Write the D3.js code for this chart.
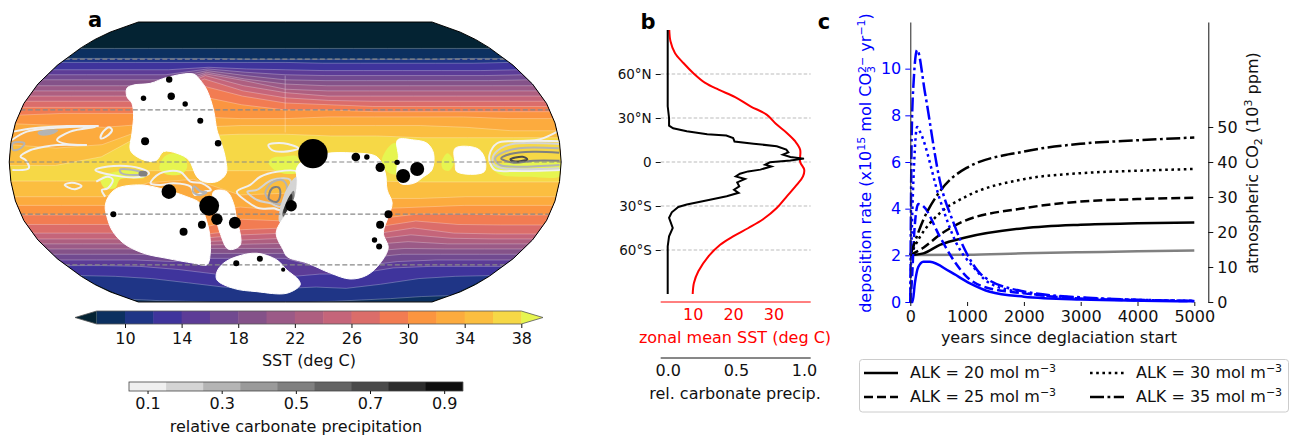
<!DOCTYPE html>
<html>
<head>
<meta charset="utf-8">
<script src="https://cdnjs.cloudflare.com/ajax/libs/d3/7.8.5/d3.min.js"></script>
<style>
  body { margin: 0; background: #fff; }
  svg { display: block; font-family: "DejaVu Sans", sans-serif; }
  text { fill: #111; }
</style>
</head>
<body>
<svg id="chart" width="1290" height="435"></svg>
<script>
// robinson table
const robLats = [0, 5, 10, 15, 20, 25, 30, 35, 40, 45, 50, 55, 60, 65, 70, 75, 80, 85, 90];
const robPlen = [1, .9986, .9954, .99, .9822, .973, .96, .9427, .9216, .8962, .8679, .835, .7986, .7597, .7186, .6732, .6213, .5722, .5322];
const robPdfe = [0, .062, .124, .186, .248, .31, .372, .434, .4958, .5571, .6176, .6769, .7346, .7903, .8435, .8936, .9394, .9761, 1];

// SST colour levels
const sstLevels = [8, 10, 12, 14, 16, 18, 20, 22, 24, 26, 28, 30, 32, 34, 36];
const sstColors = ['#0c3060', '#1f3586', '#3f349c', '#5c3c97', '#714a90', '#845289', '#9b5a87', '#ae5f80', '#c5657a', '#db6d6a', '#f27c52', '#fb9540', '#fcab3e', '#fbbe40', '#f6d846'];
const sstUnder = '#042333';
const sstOver = '#e6f550';
const sstTicks = [10, 14, 18, 22, 26, 30, 34, 38];

// isotherm latitudes, one row per level, one column per longitude
const isoLons = [-180, -150, -120, -90, -60, -30, 0, 30, 60, 90, 120, 150, 180];
const isoNorth = [
  [67, 67, 67, 67, 67, 67, 67, 67, 67, 67, 67, 67, 67],
  [60.5, 60.5, 60.5, 60.5, 60.5, 60, 60, 60, 60, 60, 60, 60.5, 60.5],
  [58, 58, 58, 58, 58, 58, 58, 57.5, 57.5, 57.5, 57.5, 57.5, 58],
  [53.5, 53.5, 53.5, 53.5, 55, 54, 53.5, 53, 53, 53, 53, 53, 53.5],
  [50.5, 50.5, 50.5, 50.5, 54, 52, 50.5, 50, 50, 50, 50, 50, 50.5],
  [47.5, 47.5, 47.5, 47.5, 53, 50, 47.5, 47, 47, 47, 47, 47, 47.5],
  [44, 44, 44, 44, 52, 48, 45, 44, 44, 44, 44, 44, 44],
  [41, 41, 41, 41, 51, 47, 42, 41, 41, 41, 41, 41, 41],
  [38, 38, 38, 38, 50, 44, 40, 38, 38, 38, 38, 38, 38],
  [35, 35, 35, 35, 48, 41, 37, 35.5, 35, 35, 35, 35, 35],
  [31.5, 31.5, 31.5, 31.5, 44, 38, 34, 33, 32, 32, 32, 32, 32],
  [27, 28, 28, 28, 38, 33, 30, 30, 29, 29, 29, 29, 29],
  [22, 21, 20, 22, 26, 25, 25, 26, 26, 26, 26, 25, 25],
  [10, 8, 10, 20, 20, 21, 21, 21, 21, 21, 20, 18, 18],
  [-2, -2, 3, 18, 15, 16, 16, 15, 15, 14, 14, 14, 14],
];
const isoSouth = [
  [-90, -90, -90, -90, -90, -90, -90, -90, -90, -90, -90, -90, -90],
  [-86, -88, -89, -90, -90, -90, -90, -90, -89, -87, -85, -83, -82],
  [-67, -67.5, -69, -72, -75, -76, -76, -75, -76, -73, -69, -67.5, -67],
  [-60.5, -60.5, -61, -63, -66, -68, -68, -66, -66, -62, -61, -61, -61],
  [-57, -57, -57, -58, -56, -56, -56, -62, -61, -58, -57, -57, -57],
  [-53.5, -53.5, -53.5, -54, -53, -53, -53, -59, -56, -53.5, -53.5, -53.5, -53.5],
  [-50.3, -50.3, -50.3, -50.5, -50, -50, -50, -56, -52, -50, -50.3, -50.3, -50.3],
  [-47.3, -47.3, -47.3, -47.5, -48, -47.5, -47, -54, -48, -46, -47.3, -47.3, -47.3],
  [-44.4, -44.4, -44.4, -44.5, -46, -45, -44, -52, -45, -42, -44, -44.4, -44.4],
  [-41, -41, -41, -41, -44, -42, -41, -48, -42, -38, -41, -41.5, -41.5],
  [-36, -36, -36, -36, -42, -39, -38, -45, -38, -34, -36, -36.3, -36.3],
  [-30.5, -30.5, -30.5, -30.5, -38, -33, -34, -38, -33, -30, -30, -30.5, -30.5],
  [-25, -25, -25, -25, -28, -26, -28, -28, -27, -26, -25, -25, -25],
  [-20, -20, -20, -12, -10, -19, -18, -20, -21, -21, -20, -20, -20],
  [-11, -11, -11, -5, -5, -5, -5, -8, -11, -11.5, -11.5, -11.5, -11.5],
];

// patches warmer than 38 deg
const hotPatches = [
  [[-82, -4], [-79, 3], [-72, 5], [-66, 3], [-64, -3], [-68, -7], [-78, -7]],
  [[-11, 0], [-8, 2.5], [-2, 3], [8, 3], [8, -6], [-4, -6], [-9, -3]],
  [[63, 1], [68, 9], [72, 11], [76, 8], [76, -6], [70, -7], [65, -4]],
  [[102, 0], [106, 5], [110, 0], [107, -5], [103, -4]],
  [[134, -2], [140, -7], [160, -8.5], [180, -8], [180, -1], [140, -1]],
  [[-121, -10], [-117, -7], [-95, -5], [-92, -9], [-108, -10], [-112, -15], [-119, -15]],
];

// continents as lon/lat outlines
const landOutlines = [
  [[-113.6, 42.5], [-110, 44.4], [-98.5, 45.4], [-88.3, 48.9], [-69.4, 50.9], [-62.8, 47.3], [-55.9, 41.5], [-48.7, 30], [-45.2, 18.4], [-42.7, 12.7], [-39.2, 3], [-38.6, -6.5], [-44.8, -11.3], [-53.6, -11.3], [-57.8, -8.5], [-63, 1.2], [-70.7, 5], [-79.5, 6], [-83.7, 1.2], [-88, .2], [-96.8, 3], [-101.3, 6.9], [-101.2, 16.5], [-102.2, 27], [-105.6, 33.8], [-110.8, 37.6]],
  [[-117.4, -20], [-110.9, -15.2], [-95.3, -13.2], [-82.4, -15.2], [-65.3, -20], [-56.9, -23.8], [-54.6, -31.6], [-53.9, -41.1], [-57.6, -52.9], [-63.9, -60], [-74.2, -59], [-93.2, -56], [-108.9, -52.9], [-119.1, -47], [-122.2, -39.2], [-121.8, -31.6], [-120.9, -25.7]],
  [[-47.4, -17.1], [-38.5, -17.1], [-34.6, -23.8], [-33.5, -31.6], [-33.4, -48], [-42.8, -50.5], [-46.3, -41.1], [-47.5, -29.6]],
  [[-49.9, -59], [-37.7, -54.9], [-21.7, -52.9], [-6.6, -57], [1.4, -63.3], [12.1, -69.9], [14.2, -73.5], [1.8, -79.8], [-29.1, -78.6], [-50.9, -76], [-61.9, -69.9], [-58.2, -64.4]],
  [[9.8, -.6], [24.8, 4.6], [44.4, 5.2], [60, 2.9], [65.4, -6.3], [67.3, -16.1], [71.5, -23.6], [70.4, -31.7], [69.8, -40.9], [77.2, -49.6], [76.9, -58.9], [71.7, -66.6], [58.6, -69.3], [38.8, -65.3], [17.8, -58.9], [1.6, -55], [-1.5, -50.9], [-6.4, -40.9], [0, -30.5], [6.6, -20.2], [7.9, -10.4], [7.2, -4.6]],
  [[73.8, 12.7], [84.3, 12.7], [93, 10.8], [96.9, 5], [95.8, -4.6], [90.6, -8.5], [84.3, -12.3], [75.5, -12.3], [73, -6.5], [73.9, 3]],
  [[111.2, 7.9], [125.4, 7.9], [129.9, 3], [130, -5.6], [112.2, -5.6], [110.9, -.8]],
];

// carbonate precipitation contours: level, closed or not, lon/lat
const precipContours = [
  { level: .1, closed: false, pts: [[180, 12], [150, 12], [139, 10.8], [133.4, 4], [133.7, -.7], [137, -4.6], [149, -5.2], [180, -4.6]] },
  { level: .2, closed: false, pts: [[180, 10.4], [149, 10.4], [141, 7.9], [135.6, 3], [136.4, -1.7], [142.2, -3.6], [179, -3.6]] },
  { level: .3, closed: false, pts: [[179, 7.9], [153, 7.9], [142, 5.4], [137, 2.1], [140, -1.7], [151, -2.7], [179, -1.7]] },
  { level: .5, closed: false, pts: [[179, 5.4], [162, 5.9], [147, 4.6], [141, 2.1], [149, -.4], [162, .7], [179, .7]] },
  { level: .7, closed: true, pts: [[147, 1.6], [155, 3], [158, 1.6], [149, .4]] },
  { level: .1, closed: false, pts: [[180, 17.5], [167, 13], [150, 12]] },
  { level: .1, closed: false, pts: [[-180, 17.5], [-167, 19.4], [-145, 20.7], [-124, 20.7]] },
  { level: .1, closed: false, pts: [[-179.6, 12.7], [-170.9, 17.5], [-155.8, 19.4], [-126, 20.3], [-142.2, 17.5], [-150, 12.7], [-143.5, 10.4], [-129.9, 9.8]] },
  { level: .1, closed: false, pts: [[-178.2, -4.6], [-167.4, -3.6], [-169.5, 1.2], [-172.8, 3], [-166.5, 6.9], [-157.8, 8.8], [-149.5, 9.8], [-132.1, 9.8]] },
  { level: .3, closed: true, pts: [[-178.7, 10.8], [-171, 10.8], [-173, 7.9], [-178, 6.9]] },
  { level: .1, closed: true, pts: [[-121, 16.5], [-117, 20], [-114.7, 18.4], [-118, 14.6], [-121.3, 13.6]] },
  { level: .3, closed: true, fill: true, pts: [[-163, 16.9], [-157.5, 18.1], [-151, 18.1], [-155.5, 16.1], [-162, 16.1]] },
  { level: .1, closed: true, pts: [[-124, -4.6], [-112, -2.3], [-95, -3.6], [-89, -6.5], [-95, -8.6], [-110, -8]] },
  { level: .3, closed: true, pts: [[-108, -4.5], [-97, -5], [-91, -6.8], [-96, -7.5], [-107, -6.5]] },
  { level: .5, closed: true, fill: true, pts: [[-95, -6], [-91, -6], [-91, -7.5], [-95, -7.5]] },
  { level: .1, closed: true, pts: [[-145, -13.2], [-140, -11.9], [-134, -13.8], [-138.6, -15.7], [-143, -14.6]] },
  { level: .1, closed: false, pts: [[-124, -11.3], [-116, -8.5], [-113, -10.4], [-117, -15.2], [-121, -16.1], [-119.5, -20]] },
  { level: .1, closed: true, pts: [[-88.4, -12.3], [-81.9, -6.5], [-68.8, -5.6], [-62.2, -11.3], [-54.6, -12.3], [-49.1, -16.1], [-53.5, -17.1], [-60, -19], [-62.2, -14.2], [-73.2, -12.3], [-81.9, -13.2]] },
  { level: .3, closed: true, pts: [[-60, -14], [-56, -17], [-52, -17.5], [-57, -19], [-61, -17]] },
  { level: .1, closed: true, pts: [[-32, -17.1], [-23, -13.2], [-16.3, -8.5], [-5.5, -5.6], [7.7, -5.6], [7.7, -9.4], [2.2, -21.9], [-3.3, -27.6], [-7.7, -26.7], [-17.6, -26.7], [-25.3, -22.9]] },
  { level: .2, closed: true, pts: [[-25, -17.1], [-18.7, -16.1], [-8.7, -10.4], [3.3, -10.4], [1.1, -20.9], [-3.3, -25.8], [-9.9, -23.8], [-18.7, -21.9]] },
  { level: .3, closed: true, pts: [[-13.2, -18], [-8.7, -11.9], [-2.2, -10.4], [1.1, -14.2], [-2.2, -23.8], [-8.8, -22.9]] },
  { level: .5, closed: true, pts: [[-11, -21], [-8.7, -15.2], [-4.4, -14.6], [-3.3, -19], [-5.5, -22.9], [-9.9, -21.9]] },
  { level: .1, closed: true, pts: [[-11, 9.8], [-1.1, 10.8], [8.7, 7.9], [-1.1, 5.9], [-8.7, 6.9]] },
  { level: .2, closed: true, fill: true, pts: [[7.2, -9.2], [7.9, -16.1], [4.7, -24.9], [0, -34.3], [-3.4, -34.3], [-1.3, -21.9], [3.3, -13.2]] },
  { level: .5, closed: true, fill: true, pts: [[5.3, -17.1], [4.7, -24.9], [0, -32.2], [-1.4, -30], [1.3, -24.2]] },
  { level: .8, closed: true, fill: true, pts: [[4, -19], [3.4, -24.9], [0, -31], [-.7, -28.8], [1.3, -23.6]] },
];

// sediment sites
const siteLons = [-85.9, -98.8, -79.9, -68.8, -56.8, -92, -44, -76.9, -51, -116.8, -57.9, -46.9, -34.8, -72, 4, -39.6, -20, -1.7, 18.1, 46.1, 53.3, 62, 73, 77.2, 86.2, 70.2, 66, 65, 70.1];
const siteLats = [47.7, 36.7, 37.9, 33.4, 23.8, 11.9, 10.8, -17.1, -25.2, -30.1, -36.1, -33, -35, -40.2, -25.2, -59, -56.2, -63.1, 4.8, 2.9, 2.9, -3.1, -.2, -8.1, -4, -30.1, -36.1, -45, -48.9];
const siteSizes = [.047, .034, .063, .034, .042, .074, .05, .247, .46, .042, .074, .15, .167, .074, .15, .042, .042, .02, 1, .086, .034, .1, .034, .227, .227, .074, .074, .034, .042];

const mapGridLats = [60, 30, 0, -30, -60];
const precipLevels = [.05, .15, .25, .35, .45, .55, .65, .75, .85, .95];
const precipColors = ['#f0f0f0', '#d4d4d4', '#b4b4b4', '#9a9a9a', '#808080', '#646464', '#4a4a4a', '#2c2c2c', '#0e0e0e'];
const precipTicks = [.1, .3, .5, .7, .9];

// panel b
const sstProfileLat = [90, 82.3, 74.3, 67.5, 60.2, 53.9, 49.3, 44.3, 38, 32.3, 25.5, 19.8, 14, 8.4, 0, -5.2, -9.8, -15.5, -23.4, -31.4, -38.9, -45, -50.7, -56.4, -64.3, -74.5, -82.5, -90];
const sstProfile = [4.2, 4.5, 5.6, 7.7, 10.3, 13.1, 16.4, 20.5, 24.3, 28.3, 30.8, 33.3, 35.4, 36.6, 36.6, 37.6, 37.3, 35.8, 33.3, 30.8, 27.5, 23.8, 20, 16.8, 13.9, 11.4, 10.3, 10];
const precipProfileLat = [90, 38, 30, 24.8, 23, 21, 19, 18, 16.4, 14, 12.5, 10.7, 8.4, 6.6, 5, 3.4, 2.3, 1.1, -.2, -1.8, -3, -5.2, -6.4, -8, -9.8, -11.6, -13.9, -16.6, -18.9, -21, -23.4, -25.7, -29, -30.7, -34.3, -38, -45, -50.7, -57.5, -90];
const precipProfile = [0, 0, .01, .01, .04, .14, .29, .43, .48, .49, .63, .8, .87, .885, .845, .9, 1, .9, .75, .715, .76, .68, .59, .53, .5, .567, .51, .525, .487, .52, .433, .31, .14, .078, .03, .01, .037, .01, 0, 0];
const latTicks = [60, 30, 0, -30, -60];
const latTickLabels = ['60°N', '30°N', '0', '30°S', '60°S'];

// panel c, each run has its own time and value lists
const alkNames = ['20', '25', '30', '35'];
const depTimes = [
  [0, 40, 80, 140, 230, 346, 700, 1050, 1400, 2000, 3000, 5000],
  [0, 30, 70, 140, 230, 520, 760, 990, 1285, 2000, 3000, 5000],
  [0, 25, 65, 120, 170, 520, 815, 1110, 1400, 2000, 3000, 5000],
  [0, 25, 60, 120, 260, 520, 760, 990, 1285, 2000, 3000, 5000],
];
const depRates = [
  [0, 0, .8, 1.5, 1.73, 1.72, 1.3, .8, .44, .23, .11, .03],
  [0, 1, 3, 4.2, 4.1, 2.8, 1.8, 1.09, .66, .37, .15, .04],
  [0, 2.9, 5.8, 7.5, 7.3, 4.4, 2.5, 1.5, .8, .4, .18, .05],
  [0, 7.2, 9.5, 10.8, 8.95, 5.2, 3.4, 2.1, 1.1, .45, .2, .05],
];
const co2Times = [
  [0, 230, 520, 990, 2000, 3000, 4000, 5000],
  [0, 230, 520, 930, 2000, 3000, 4000, 5000],
  [0, 170, 520, 990, 2000, 3000, 4000, 5000],
  [0, 230, 520, 990, 2000, 3000, 4000, 5000],
];
const co2Values = [
  [13.4, 13.9, 16.3, 18.5, 21.1, 22.1, 22.5, 22.7],
  [13.4, 15.5, 19.2, 23, 26.8, 28.7, 29.4, 29.8],
  [13.4, 18.6, 25.4, 30.2, 35.1, 36.8, 37.5, 38],
  [13.4, 23.5, 31.6, 38.3, 43, 45.2, 46.2, 47],
];
const greyTimes = [0, 1000, 2000, 3000, 4000, 5000];
const greyCo2 = [13.4, 13.5, 13.9, 14.2, 14.5, 14.7];

const svg = d3.select('#chart');
const dashes = [null, '9,4', '2.6,3.6', '14,3.5,2.8,3.5'];
const fontSize = 16;
const supSize = 11;

function addText(x, y, str, color, size, anchor) {
  return svg.append('text')
    .attr('x', x)
    .attr('y', y)
    .attr('font-size', size)
    .attr('text-anchor', anchor || 'middle')
    .style('fill', color)
    .text(str);
}

// parts: [text, dy, size, dx]
function addRich(g, parts) {
  parts.forEach((p) => {
    g.append('tspan')
      .attr('dy', p[1] || 0)
      .attr('dx', p[3] || 0)
      .attr('font-size', p[2] || null)
      .text(p[0]);
  });
  return g;
}

function styleAxis(g, color, size) {
  g.attr('font-family', null).attr('font-size', size);
  g.selectAll('text').style('fill', color);
  g.selectAll('line').attr('stroke', color);
  g.select('.domain').attr('stroke', color);
}

// ---------- panel a
const plen = d3.scaleLinear().domain(robLats).range(robPlen);
const pdfe = d3.scaleLinear().domain(robLats).range(robPdfe);
function robinsonRaw(lambda, phi) {
  const deg = Math.abs(phi) * 180 / Math.PI;
  const sign = phi < 0 ? -1 : 1;
  return [0.8487 * plen(deg) * lambda, 1.3523 * pdfe(deg) * sign];
}
const projection = d3.geoProjection(robinsonRaw).scale(103.5).translate([285.2, 162]);
const geoPath = d3.geoPath(projection);
const lineFn = d3.line();
const closedFn = d3.line().curve(d3.curveLinearClosed);
const smoothFn = d3.line().curve(d3.curveCatmullRom);
const smoothClosedFn = d3.line().curve(d3.curveCatmullRomClosed);
const toXY = (p) => projection(p);

svg.append('clipPath').attr('id', 'globe').append('path').attr('d', geoPath({ type: 'Sphere' }));
const map = svg.append('g').attr('clip-path', 'url(#globe)');

map.append('path').attr('d', geoPath({ type: 'Sphere' })).attr('fill', sstUnder);

const edgeSteps = d3.range(0, 1.001, .1);
sstLevels.forEach((level, i) => {
  const north = isoLons.map((lon, j) => [lon, isoNorth[i][j]]);
  const south = isoLons.map((lon, j) => [lon, isoSouth[i][j]]).reverse();
  const eastEdge = edgeSteps.map((t) => [180, isoNorth[i][12] + t * (isoSouth[i][12] - isoNorth[i][12])]);
  const westEdge = edgeSteps.map((t) => [-180, isoSouth[i][0] + t * (isoNorth[i][0] - isoSouth[i][0])]);
  const ring = [...north, ...eastEdge, ...south, ...westEdge];
  map.append('path').attr('d', closedFn(ring.map(toXY))).attr('fill', sstColors[i]);
  [north, south].forEach((iso) => {
    map.append('path')
      .attr('d', lineFn(iso.map(toXY)))
      .attr('fill', 'none')
      .attr('stroke', '#fff')
      .attr('stroke-opacity', .3)
      .attr('stroke-width', .9);
  });
});

map.selectAll('path.hot').data(hotPatches).join('path')
  .attr('class', 'hot')
  .attr('d', (d) => smoothClosedFn(d.map(toXY)))
  .attr('fill', sstOver);

const precipGrey = d3.scaleThreshold().domain(precipLevels.slice(1, -1)).range(precipColors);
map.selectAll('path.precip').data(precipContours).join('path')
  .attr('class', 'precip')
  .attr('d', (d) => (d.closed ? smoothClosedFn : smoothFn)(d.pts.map(toXY)))
  .attr('fill', (d) => (d.fill ? precipGrey(d.level) : 'none'))
  .attr('stroke', (d) => precipGrey(d.level))
  .attr('stroke-width', 2)
  .attr('stroke-linejoin', 'round');

map.selectAll('path.land').data(landOutlines).join('path')
  .attr('class', 'land')
  .attr('d', (d) => smoothClosedFn(d.map(toXY)))
  .attr('fill', '#fff')
  .attr('stroke', '#fff')
  .attr('stroke-width', 1);

map.append('path')
  .attr('d', lineFn([[0, 50], [0, 17]].map(toXY)))
  .attr('stroke', '#fff')
  .attr('stroke-opacity', .3)
  .attr('fill', 'none');

map.selectAll('line.grid').data(mapGridLats).join('line')
  .attr('class', 'grid')
  .attr('x1', (d) => projection([-180, d])[0])
  .attr('x2', (d) => projection([180, d])[0])
  .attr('y1', (d) => projection([0, d])[1])
  .attr('y2', (d) => projection([0, d])[1])
  .attr('stroke', '#888')
  .attr('stroke-width', 1.2)
  .attr('stroke-dasharray', '5,2.5');

const dotRadius = d3.scaleSqrt().domain([0, 1]).range([0, 14.7]);
map.selectAll('circle').data(siteLons).join('circle')
  .attr('cx', (d, i) => projection([d, siteLats[i]])[0])
  .attr('cy', (d, i) => projection([d, siteLats[i]])[1])
  .attr('r', (d, i) => dotRadius(siteSizes[i]))
  .attr('fill', '#000');

svg.append('path')
  .attr('d', geoPath({ type: 'Sphere' }))
  .attr('fill', 'none')
  .attr('stroke', '#000')
  .attr('stroke-width', 1);

addText(95, 27, 'a', '#000', 21).attr('font-weight', 'bold');

// SST colorbar
const sstX = d3.scaleLinear().domain([8, 38]).range([96.7, 521.3]);
const barY = 311;
const barH = 13;
const sstEdges = [...sstLevels, 38];
svg.selectAll('rect.sst').data(sstColors).join('rect')
  .attr('class', 'sst')
  .attr('x', (d, i) => sstX(sstEdges[i]))
  .attr('width', (d, i) => sstX(sstEdges[i + 1]) - sstX(sstEdges[i]) + .5)
  .attr('y', barY)
  .attr('height', barH)
  .attr('fill', (d) => d);
svg.append('path')
  .attr('d', d3.line()([[sstX(8), barY], [sstX(8) - 21.7, barY + barH / 2], [sstX(8), barY + barH]]))
  .attr('fill', sstUnder);
svg.append('path')
  .attr('d', d3.line()([[sstX(38), barY], [sstX(38) + 21.7, barY + barH / 2], [sstX(38), barY + barH]]))
  .attr('fill', sstOver);
svg.append('path')
  .attr('d', d3.line().curve(d3.curveLinearClosed)([[sstX(8) - 21.7, barY + barH / 2], [sstX(8), barY], [sstX(38), barY], [sstX(38) + 21.7, barY + barH / 2], [sstX(38), barY + barH], [sstX(8), barY + barH]]))
  .attr('fill', 'none')
  .attr('stroke', '#555')
  .attr('stroke-width', .8);
const sstAxis = svg.append('g')
  .attr('transform', `translate(0,${barY + barH})`)
  .call(d3.axisBottom(sstX).tickValues(sstTicks).tickSize(4).tickPadding(5));
sstAxis.select('.domain').remove();
styleAxis(sstAxis, '#111', fontSize);
addText(309, 366, 'SST (deg C)', '#111', fontSize);

// precip colorbar
const greyX = d3.scaleLinear().domain([.05, .95]).range([129, 462.7]);
svg.selectAll('rect.grey').data(precipColors).join('rect')
  .attr('class', 'grey')
  .attr('x', (d, i) => greyX(precipLevels[i]))
  .attr('width', (d, i) => greyX(precipLevels[i + 1]) - greyX(precipLevels[i]) + .5)
  .attr('y', 382)
  .attr('height', 9)
  .attr('fill', (d) => d);
svg.append('rect')
  .attr('x', greyX(.05))
  .attr('y', 382)
  .attr('width', greyX(.95) - greyX(.05))
  .attr('height', 9)
  .attr('fill', 'none')
  .attr('stroke', '#444')
  .attr('stroke-width', .8);
const greyAxis = svg.append('g')
  .attr('transform', 'translate(0,391)')
  .call(d3.axisBottom(greyX).tickValues(precipTicks).tickFormat(d3.format('.1f')).tickSize(3).tickPadding(4));
greyAxis.select('.domain').remove();
styleAxis(greyAxis, '#111', fontSize);
addText(296, 432, 'relative carbonate precipitation', '#111', fontSize);

// ---------- panel b
const bLat = d3.scaleLinear().domain([90, -90]).range([30, 294]);
const bSst = d3.scaleLinear().domain([10, 30]).range([692.7, 773.5]);
const bPrecip = d3.scaleLinear().domain([0, 1]).range([667.7, 804]);
const bLeft = 660.7;
const bRight = 810.7;

svg.append('g').selectAll('line').data(latTicks).join('line')
  .attr('x1', bLeft)
  .attr('x2', bRight)
  .attr('y1', (d) => bLat(d))
  .attr('y2', (d) => bLat(d))
  .attr('stroke', '#bbb')
  .attr('stroke-width', 1)
  .attr('stroke-dasharray', '3.5,2');

svg.append('path')
  .datum(sstProfile)
  .attr('d', d3.line().x((d) => bSst(d)).y((d, i) => bLat(sstProfileLat[i])).curve(d3.curveCatmullRom))
  .attr('fill', 'none')
  .attr('stroke', '#f00')
  .attr('stroke-width', 2);
svg.append('path')
  .datum(precipProfile)
  .attr('d', d3.line().x((d) => bPrecip(d)).y((d, i) => bLat(precipProfileLat[i])))
  .attr('fill', 'none')
  .attr('stroke', '#000')
  .attr('stroke-width', 2);

const bLatAxis = svg.append('g')
  .attr('transform', `translate(${bLeft},0)`)
  .call(d3.axisLeft(bLat).tickValues(latTicks).tickFormat((d, i) => latTickLabels[i]).tickSize(5).tickPadding(4));
bLatAxis.select('.domain').remove();
styleAxis(bLatAxis, '#111', 13.5);

const bSstAxis = svg.append('g')
  .attr('transform', 'translate(0,302)')
  .call(d3.axisBottom(bSst).tickValues([10, 20, 30]).tickSize(0).tickPadding(7));
styleAxis(bSstAxis, '#f00', fontSize);
bSstAxis.select('.domain').attr('d', `M${bLeft},0H${bRight}`);
addText(735, 343, 'zonal mean SST (deg C)', '#f00', fontSize);

const bPrecipAxis = svg.append('g')
  .attr('transform', 'translate(0,358)')
  .call(d3.axisBottom(bPrecip).tickValues([0, .5, 1]).tickFormat(d3.format('.1f')).tickSize(0).tickPadding(7));
styleAxis(bPrecipAxis, '#111', fontSize);
bPrecipAxis.select('.domain').attr('d', `M${bLeft},0H${bRight}`);
addText(735, 399, 'rel. carbonate precip.', '#111', fontSize);

addText(648, 29, 'b', '#000', 21).attr('font-weight', 'bold');

// ---------- panel c
const cX = d3.scaleLinear().domain([0, 5000]).range([910.3, 1194.3]);
const cDep = d3.scaleLinear().domain([0, 12]).range([302, 22]);
const cCo2 = d3.scaleLinear().domain([0, 80]).range([302, 22]);

svg.append('path')
  .datum(greyCo2)
  .attr('d', d3.line().x((d, i) => cX(greyTimes[i])).y((d) => cCo2(d)).curve(d3.curveMonotoneX))
  .attr('fill', 'none')
  .attr('stroke', '#808080')
  .attr('stroke-width', 2.5);

alkNames.forEach((name, k) => {
  svg.append('path')
    .datum(co2Values[k])
    .attr('d', d3.line().x((d, i) => cX(co2Times[k][i])).y((d) => cCo2(d)).curve(d3.curveMonotoneX))
    .attr('fill', 'none')
    .attr('stroke', '#000')
    .attr('stroke-width', 2.5)
    .attr('stroke-dasharray', dashes[k]);
  svg.append('path')
    .datum(depRates[k])
    .attr('d', d3.line().x((d, i) => cX(depTimes[k][i])).y((d) => cDep(d)).curve(d3.curveMonotoneX))
    .attr('fill', 'none')
    .attr('stroke', '#0000ff')
    .attr('stroke-width', 2.5)
    .attr('stroke-dasharray', dashes[k]);
});

const cLeftAxis = svg.append('g')
  .attr('transform', `translate(${cX(0)},0)`)
  .call(d3.axisLeft(cDep).tickValues([0, 2, 4, 6, 8, 10]).tickSize(5).tickPadding(4).tickSizeOuter(0));
styleAxis(cLeftAxis, '#0000ff', fontSize);
cLeftAxis.select('.domain').attr('stroke', '#222');

const cRightAxis = svg.append('g')
  .attr('transform', 'translate(1208.3,0)')
  .call(d3.axisRight(cCo2).tickValues([0, 10, 20, 30, 40, 50]).tickSize(5).tickPadding(4).tickSizeOuter(0));
styleAxis(cRightAxis, '#111', fontSize);

const cBottomAxis = svg.append('g')
  .attr('transform', 'translate(0,302)')
  .call(d3.axisBottom(cX).tickValues([0, 1000, 2000, 3000, 4000, 5000]).tickFormat(d3.format('d')).tickSize(4).tickPadding(5));
cBottomAxis.select('.domain').remove();
styleAxis(cBottomAxis, '#111', fontSize);
addText(1059, 343, 'years since deglaciation start', '#111', fontSize);

addRich(
  svg.append('text')
    .attr('transform', 'translate(871,163) rotate(-90)')
    .attr('text-anchor', 'middle')
    .attr('font-size', fontSize)
    .style('fill', '#0000ff'),
  [['deposition rate (x10'], ['15', -6, supSize], [' mol CO', 6], ['3', 4, supSize], ['2−', -9, supSize, -7], [' yr', 5], ['−1', -6, supSize], [')', 6]]
);
addRich(
  svg.append('text')
    .attr('transform', 'translate(1258,163) rotate(-90)')
    .attr('text-anchor', 'middle')
    .attr('font-size', fontSize)
    .style('fill', '#111'),
  [['atmospheric CO'], ['2', 4, supSize], [' (10', -4], ['3', -6, supSize], [' ppm)', 6]]
);

addText(824, 29, 'c', '#000', 21).attr('font-weight', 'bold');

// legend
svg.append('rect')
  .attr('x', 859.5)
  .attr('y', 359.5)
  .attr('width', 429)
  .attr('height', 52.5)
  .attr('rx', 3)
  .attr('fill', '#fff')
  .attr('stroke', '#ccc');
const legendX = [864, 1090];
const legendY = [373, 397];
alkNames.forEach((name, k) => {
  const col = k < 2 ? 0 : 1;
  const row = k % 2;
  svg.append('line')
    .attr('x1', legendX[col])
    .attr('x2', legendX[col] + 34)
    .attr('y1', legendY[row])
    .attr('y2', legendY[row])
    .attr('stroke', '#000')
    .attr('stroke-width', 2.5)
    .attr('stroke-dasharray', dashes[k]);
  addRich(
    svg.append('text')
      .attr('x', legendX[col] + 46)
      .attr('y', legendY[row] + 5)
      .attr('font-size', fontSize),
    [[`ALK = ${name} mol m`], ['−3', -6, supSize]]
  );
});
</script>
</body>
</html>
